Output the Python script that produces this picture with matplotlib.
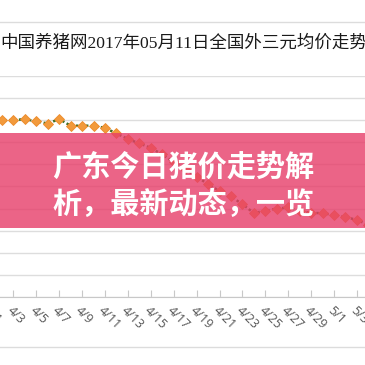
import numpy as np
import matplotlib
matplotlib.use('Agg')
import matplotlib.pyplot as plt
from matplotlib.patches import Rectangle
from matplotlib.lines import Line2D


# daily national average price (yuan/kg)
dates = ['4/1', '4/2', '4/3', '4/4', '4/5', '4/6', '4/7', '4/8', '4/9', '4/10',
         '4/11', '4/12', '4/13', '4/14', '4/15', '4/16', '4/17', '4/18', '4/19',
         '4/20', '4/21', '4/22', '4/23', '4/24', '4/25', '4/26', '4/27', '4/28',
         '4/29', '4/30', '5/1', '5/2', '5/3', '5/4']
prices = [16.00, 16.00, 16.00, 16.01, 15.99, 15.97, 16.01, 15.95, 15.95, 15.95,
          15.93, 15.88, 15.83, 15.79, 15.75, 15.69, 15.62, 15.56, 15.49, 15.42,
          15.36, 15.31, 15.24, 15.16, 15.18, 15.20, 15.21, 15.18, 15.16, 15.16,
          15.14, 15.12, 15.10, 15.05]
y_grid = [14.4, 14.6, 14.8, 15.0, 15.2, 15.4, 15.6, 15.8, 16.0, 16.2, 16.4]

title = '中国养猪网2017年05月11日全国外三元均价走势'
banner = ['广东今日猪价走势解', '析，最新动态，一览']

S = 365.0  # canvas size in px


def fy(py):
    return 1 - py / S


def main():
    fig = plt.figure(figsize=(3.65, 3.65), dpi=100)
    fig.patch.set_facecolor('white')

    # plot area: px -30..380 wide, 76..297 tall (the y axis is cropped off)
    left, right, top, bottom = -30, 380, 76, 297
    ax = fig.add_axes([left / S, fy(bottom), (right - left) / S, (bottom - top) / S])
    x0, step = -9.5, 11.45
    ax.set_xlim((left - x0) / step, (right - x0) / step)
    ax.set_ylim(y_grid[0], y_grid[-1])

    x = np.arange(len(prices))
    ax.plot(x, prices, color='#3f6e22', lw=1.8, ls=(0, (1, 1)),
            marker='D', ms=5, mfc='#f29a3c', mec='#ec8a2a', mew=0.6, zorder=3)

    ax.set_yticks(y_grid)
    ax.grid(axis='y', color='#dddddd', lw=1)
    ax.tick_params(axis='y', left=False, labelleft=False)
    for s in ['left', 'right', 'top']:
        ax.spines[s].set_visible(False)
    ax.spines['bottom'].set_color('#c8c8c8')

    ax.set_xticks(x[::2])
    ax.set_xticklabels(dates[::2], fontfamily='Open Sans', fontsize=9, color='#555555')
    ax.tick_params(axis='x', direction='in', length=5, color='#c8c8c8', pad=5)
    for lab in ax.get_xticklabels():
        lab.set_rotation(-45)
        lab.set_ha('left')
        lab.set_rotation_mode('anchor')

    # page lines around the chart
    for py in [22, 347]:
        fig.add_artist(Line2D([0, 1], [fy(py), fy(py)], color='#dcdcdc', lw=1))

    fig.text(0.0, fy(44), title, fontsize=12.6, color='#1a1a1a', va='center', ha='left',
             family=['Liberation Serif', 'Noto Sans CJK SC'])

    # pink banner over the chart
    fig.add_artist(Rectangle((0, fy(228)), 1, 95 / S, transform=fig.transFigure,
                             facecolor=(0.906, 0.239, 0.412), alpha=0.8,
                             edgecolor='none', zorder=5))
    fig.text(0.503, fy(166.5), banner[0], fontsize=21, color='white', fontweight='bold',
             ha='center', va='center', family='Noto Sans CJK SC', zorder=6)
    fig.text(0.503, fy(204), banner[1], fontsize=21, color='white', fontweight='bold',
             ha='center', va='center', family='Noto Sans CJK SC', zorder=6)

    plt.savefig('out.png', dpi=100)


if __name__ == '__main__':
    main()
